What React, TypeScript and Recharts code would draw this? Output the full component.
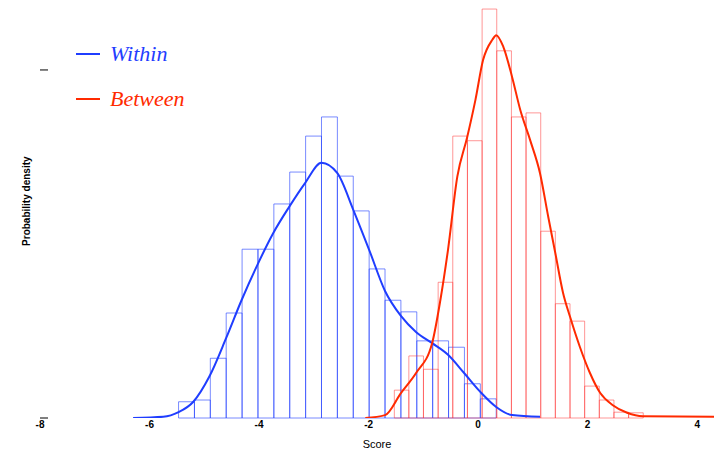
import { LineChart, Line, XAxis, YAxis, ReferenceArea, Legend } from 'recharts';

// x-axis tick labels
const scoreTicks = [-8, -6, -4, -2, 0, 2, 4];

// histogram of "Within" scores: bin edges and bin densities
const withinEdges = [
  -5.47, -5.18, -4.89, -4.6, -4.31, -4.02, -3.73, -3.44, -3.15, -2.86, -2.57,
  -2.28, -1.99, -1.7, -1.41, -1.12, -0.83, -0.54, -0.25, 0.04, 0.33,
];
const withinHeights = [
  0.028, 0.031, 0.103, 0.181, 0.291, 0.291, 0.369, 0.424, 0.486, 0.519, 0.417,
  0.357, 0.257, 0.203, 0.183, 0.133, 0.133, 0.122, 0.059, 0.033,
];

// histogram of "Between" scores
const betweenEdges = [
  -1.53, -1.265, -0.998, -0.73, -0.463, -0.195, 0.073, 0.34, 0.608, 0.875,
  1.143, 1.41, 1.678, 1.945, 2.213, 2.48, 2.748, 3.015,
];
const betweenHeights = [
  0.048, 0.107, 0.084, 0.234, 0.486, 0.478, 0.705, 0.633, 0.519, 0.526, 0.322,
  0.197, 0.167, 0.055, 0.031, 0.01, 0.009,
];

// density curves
const withinX = [
  -6.3, -5.75, -5.47, -5.2, -4.91, -4.6, -4.32, -4.03, -3.74, -3.45, -3.16,
  -2.86, -2.57, -2.28, -1.99, -1.7, -1.41, -1.13, -0.84, -0.55, -0.26, 0.04,
  0.33, 0.62, 1.13,
];
const withinY = [
  0.0, 0.002, 0.01, 0.028, 0.071, 0.138, 0.203, 0.264, 0.319, 0.364, 0.405,
  0.44, 0.422, 0.359, 0.29, 0.219, 0.176, 0.148, 0.129, 0.109, 0.078, 0.045,
  0.019, 0.005, 0.002,
];
const betweenX = [
  -2.06, -1.7, -1.41, -1.13, -0.84, -0.69, -0.55, -0.38, -0.2, -0.05, 0.09,
  0.26, 0.33, 0.46, 0.62, 0.77, 0.95, 1.13, 1.28, 1.41, 1.55, 1.68, 1.86, 2.04,
  2.23, 2.46, 2.72, 3.01, 4.34,
];
const betweenY = [
  0.0, 0.005, 0.043, 0.078, 0.129, 0.203, 0.29, 0.416, 0.484, 0.548, 0.617,
  0.652, 0.66, 0.64, 0.588, 0.531, 0.479, 0.422, 0.347, 0.284, 0.216, 0.174,
  0.122, 0.078, 0.043, 0.022, 0.009, 0.003, 0.002,
];

const seriesNames = ['Within', 'Between'];

const BLUE = '#1f3dff';
const RED = '#ff2a00';

const withinCurve = withinX.map((x, i) => ({ x, y: withinY[i] }));
const betweenCurve = betweenX.map((x, i) => ({ x, y: betweenY[i] }));

function LegendBox({ payload }: any) {
  const items = [...(payload || [])].sort(
    (a: any, b: any) => seriesNames.indexOf(a.value) - seriesNames.indexOf(b.value)
  );
  return (
    <div>
      {items.map((entry: any) => (
        <div key={entry.value} style={{ display: 'flex', alignItems: 'center', height: 45 }}>
          <svg width={24} height={4}>
            <line x1={0} y1={2} x2={24} y2={2} stroke={entry.color} strokeWidth={2} />
          </svg>
          <span
            style={{
              marginLeft: 10,
              fontFamily: '"Liberation Serif", "Times New Roman", serif',
              fontStyle: 'italic',
              fontSize: 22,
              color: entry.color,
            }}
          >
            {entry.value}
          </span>
        </div>
      ))}
    </div>
  );
}

function YLabel({ viewBox }: any) {
  const x = viewBox.x;
  const y = viewBox.y + viewBox.height * 0.475;
  return (
    <text
      x={x}
      y={y}
      transform={`rotate(-90 ${x} ${y})`}
      textAnchor="middle"
      fontSize={10}
      fontWeight="bold"
      fill="#000"
    >
      Probability density
    </text>
  );
}

export default function App() {
  return (
    <div style={{ position: 'absolute', left: 0, top: 0, background: '#fff' }}>
      <LineChart
        width={716}
        height={451}
        margin={{ top: 5, right: 2, bottom: 2, left: 30 }}
        style={{ fontFamily: '"Liberation Sans", Arial, sans-serif' }}
      >
        <XAxis
          type="number"
          dataKey="x"
          domain={[-8, 4.307]}
          ticks={scoreTicks}
          allowDataOverflow
          axisLine={false}
          tickLine={false}
          tickSize={2}
          tickMargin={1}
          height={31}
          tick={{ fill: '#000', fontSize: 10, fontWeight: 'bold' }}
          label={{ value: 'Score', position: 'insideBottom', offset: 1, fill: '#000', fontSize: 11 }}
        />
        <YAxis
          type="number"
          domain={[0, 0.712]}
          ticks={[0, 0.6]}
          allowDataOverflow
          width={10}
          axisLine={false}
          tickSize={-8}
          tickLine={{ stroke: '#000' }}
          tickFormatter={() => ''}
          label={<YLabel />}
        />

        {withinHeights.map((h, i) => (
          <ReferenceArea
            key={`w${i}`}
            x1={withinEdges[i]}
            x2={withinEdges[i + 1]}
            y1={0}
            y2={h}
            fill="none"
            stroke={BLUE}
            strokeOpacity={0.6}
            strokeWidth={1}
            ifOverflow="visible"
          />
        ))}
        {betweenHeights.map((h, i) => (
          <ReferenceArea
            key={`b${i}`}
            x1={betweenEdges[i]}
            x2={betweenEdges[i + 1]}
            y1={0}
            y2={h}
            fill="none"
            stroke="#ff3030"
            strokeOpacity={0.5}
            strokeWidth={1}
            ifOverflow="visible"
          />
        ))}

        <Line
          data={withinCurve}
          dataKey="y"
          name="Within"
          type="monotone"
          stroke={BLUE}
          strokeWidth={2}
          dot={false}
          isAnimationActive={false}
        />
        <Line
          data={betweenCurve}
          dataKey="y"
          name="Between"
          type="monotone"
          stroke={RED}
          strokeWidth={2}
          dot={false}
          isAnimationActive={false}
        />
        <Legend
          layout="vertical"
          align="center"
          verticalAlign="middle"
          wrapperStyle={{ left: 76, top: 31, width: 'auto' }}
          content={<LegendBox />}
        />
      </LineChart>
    </div>
  );
}
